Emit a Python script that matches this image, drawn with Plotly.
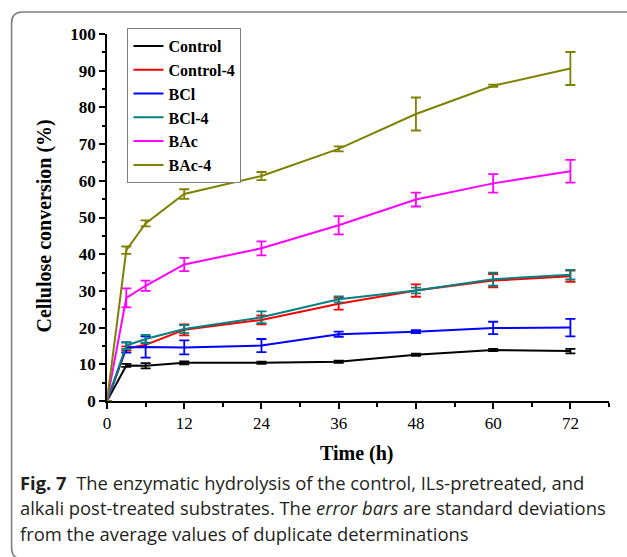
import plotly.graph_objects as go

# ---- data ----
time_h = [0, 3, 6, 12, 24, 36, 48, 60, 72]
series_names = ["Control", "Control-4", "BCl", "BCl-4", "BAc", "BAc-4"]
control   = [0, 9.7, 9.6, 10.4, 10.4, 10.7, 12.6, 13.9, 13.6]
control_e = [0, 0.4, 0.7, 0.4, 0.3, 0.3, 0.3, 0.3, 0.6]
control4   = [0, 14.3, 15.3, 19.4, 22.1, 26.5, 30.1, 32.8, 34.0]
control4_e = [0, 0.6, 0.6, 1.5, 1.2, 1.6, 1.7, 1.8, 1.5]
bcl   = [0, 14.6, 14.7, 14.6, 15.1, 18.2, 18.9, 19.9, 20.0]
bcl_e = [0, 1.4, 2.9, 1.9, 1.8, 0.7, 0.4, 1.7, 2.4]
bcl4   = [0, 15.1, 16.9, 19.6, 22.8, 27.7, 30.1, 33.2, 34.4]
bcl4_e = [0, 0.9, 1.1, 1.1, 1.6, 0.8, 0.8, 1.8, 1.3]
bac   = [0, 28.1, 31.4, 37.2, 41.6, 47.9, 54.9, 59.3, 62.6]
bac_e = [0, 2.6, 1.4, 1.8, 1.9, 2.5, 1.9, 2.5, 3.1]
bac4   = [0, 41.1, 48.4, 56.4, 61.3, 68.7, 78.2, 85.9, 90.6]
bac4_e = [0, 1.0, 0.8, 1.3, 1.1, 0.7, 4.5, 0.3, 4.5]
colors = ["#000000", "#FF0000", "#0000FF", "#008080", "#FF00FF", "#808000"]
values = [control, control4, bcl, bcl4, bac, bac4]
errors = [control_e, control4_e, bcl_e, bcl4_e, bac_e, bac4_e]

x_ticks = [0, 12, 24, 36, 48, 60, 72]
caption_lines = [
    "<b>Fig. 7</b>  The enzymatic hydrolysis of the control, ILs-pretreated, and",
    "alkali post-treated substrates. The <i>error bars</i> are standard deviations",
    "from the average values of duplicate determinations",
]

# ---- layout geometry (pixels) ----
W, H = 627, 557
L, R, T, B = 106.5, 609, 34, 401
pw, ph = R - L, B - T

def px(x):
    return (x - L) / pw

def py(y):
    return (B - y) / ph

serif = "Liberation Serif"

fig = go.Figure()
for name, col, v, e in zip(series_names, colors, values, errors):
    fig.add_trace(go.Scatter(
        x=time_h, y=v, name=f"<b>{name}</b>", mode="lines",
        line=dict(color=col, width=2),
        error_y=dict(type="data", array=e, visible=True, color=col,
                     thickness=1.8, width=5),
    ))

shapes = []
r = 11
x0, y0, x1, y1 = 11, 12, 645, 559
path = (f"M {px(x0)},{py(y0 + r)} Q {px(x0)},{py(y0)} {px(x0 + r)},{py(y0)} "
        f"L {px(x1)},{py(y0)} L {px(x1)},{py(y1)} L {px(x0 + r)},{py(y1)} "
        f"Q {px(x0)},{py(y1)} {px(x0)},{py(y1 - r)} Z")
shapes.append(dict(type="path", path=path, xref="paper", yref="paper",
                   line=dict(color="#7f7f7f", width=1.6), layer="below"))

annotations = [
    dict(text="<b>Cellulose conversion (%)</b>", x=px(44), y=py(226),
         xref="paper", yref="paper", showarrow=False, textangle=-90,
         font=dict(family=serif, size=20, color="black"),
         xanchor="center", yanchor="middle"),
    dict(text="<b>Time (h)</b>", x=px(357), y=py(453),
         xref="paper", yref="paper", showarrow=False,
         font=dict(family=serif, size=20, color="black"),
         xanchor="center", yanchor="middle"),
]
for i, line in enumerate(caption_lines):
    annotations.append(dict(
        text=line, x=px(17), y=py(482 + 25.5 * i), xref="paper", yref="paper",
        showarrow=False, xanchor="left", yanchor="middle", align="left",
        font=dict(family="Open Sans", size=18.4, color="#231f20")))

fig.update_layout(
    width=W, height=H,
    margin=dict(l=L, r=W - R, t=T, b=H - B, autoexpand=False),
    paper_bgcolor="white", plot_bgcolor="white",
    showlegend=True,
    legend=dict(x=px(127), y=py(28), xanchor="left", yanchor="top",
                bordercolor="#808080", borderwidth=1, bgcolor="white",
                font=dict(family=serif, size=16, color="black"),
                tracegroupgap=0, itemwidth=30),
    xaxis=dict(range=[0, 78], tickvals=x_ticks, ticks="outside", ticklen=6,
               tickwidth=1.5, tickcolor="black", showline=True, linecolor="black",
               linewidth=1.5, showgrid=False, zeroline=False,
               tickfont=dict(family=serif, size=17, color="black"),
               tickprefix="<b>", ticksuffix="</b>",
               minor=dict(tickvals=[6, 18, 30, 42, 54, 66, 78], ticks="outside",
                          ticklen=4, tickwidth=1.5, tickcolor="black")),
    yaxis=dict(range=[0, 100], dtick=10, ticks="outside", ticklen=6,
               tickwidth=1.5, tickcolor="black", showline=True, linecolor="black",
               linewidth=1.5, showgrid=False, zeroline=False,
               tickfont=dict(family=serif, size=17, color="black"),
               tickprefix="<b>", ticksuffix="</b>",
               minor=dict(dtick=5, ticks="outside", ticklen=3, tickwidth=1.5,
                          tickcolor="black")),
    shapes=shapes, annotations=annotations,
)

fig.write_html("out.html")
